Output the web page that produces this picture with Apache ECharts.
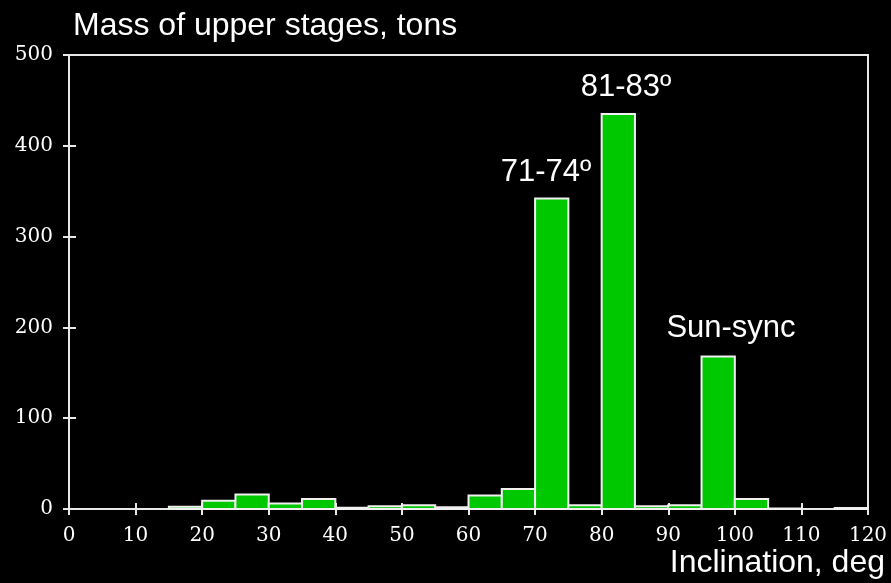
<!DOCTYPE html>
<html>
<head>
<meta charset="utf-8">
<script src="https://cdn.jsdelivr.net/npm/echarts@6/dist/echarts.min.js"></script>
<style>
html,body{margin:0;padding:0;background:#000;}
#c{width:891px;height:583px;}
</style>
</head>
<body>
<div id="c"></div>
<script>
// Bin start (inclination, deg), 5-degree bins
const binStarts = [0,5,10,15,20,25,30,35,40,45,50,55,60,65,70,75,80,85,90,95,100,105,110,115];
// Mass of upper stages, tons
const masses    = [0,0,0,2.5,9,16,6,11,1.5,3,4,2,15,22,342,4,435,3,4,168,11,0.5,0,1];
const binWidth = 5;
const xTicks = [0,10,20,30,40,50,60,70,80,90,100,110,120];
const yTicks = [0,100,200,300,400,500];
const annotations = [
  {text: '71-74º', x: 546, y: 172},
  {text: '81-83º', x: 626, y: 87},
  {text: 'Sun-sync', x: 731, y: 328}
];

const data = binStarts.map((s, i) => [s, s + binWidth, masses[i]]);

const chart = echarts.init(document.getElementById('c'), null, {renderer: 'canvas'});
const labelFont = {color: '#fff', fontFamily: 'DejaVu Serif', fontSize: 20};
const sansFont = 'Liberation Sans';

const option = {
  backgroundColor: '#000',
  animation: false,
  grid: {left: 69, right: 23, top: 55, bottom: 74, show: true, borderColor: '#e8e8e8', borderWidth: 2, containLabel: false},
  xAxis: [{
    type: 'value', min: xTicks[0], max: xTicks[xTicks.length-1], interval: 10,
    axisLine: {show: true, onZero: false, lineStyle: {color: '#e8e8e8', width: 2}},
    axisTick: {show: true, inside: false, length: 6, lineStyle: {color: '#e8e8e8', width: 2}},
    axisLabel: Object.assign({margin: 17}, labelFont),
    splitLine: {show: false}
  }, {
    type: 'value', min: xTicks[0], max: xTicks[xTicks.length-1], interval: 10, position: 'bottom',
    axisLine: {show: false},
    axisTick: {show: true, inside: true, length: 6, lineStyle: {color: '#e8e8e8', width: 2}},
    axisLabel: {show: false},
    splitLine: {show: false}
  }],
  yAxis: [{
    type: 'value', min: yTicks[0], max: yTicks[yTicks.length-1], interval: 100,
    axisLine: {show: true, lineStyle: {color: '#e8e8e8', width: 2}},
    axisTick: {show: true, inside: false, length: 6, lineStyle: {color: '#e8e8e8', width: 2}},
    axisLabel: Object.assign({margin: 16}, labelFont),
    splitLine: {show: false}
  }, {
    type: 'value', min: yTicks[0], max: yTicks[yTicks.length-1], interval: 100, position: 'left',
    axisLine: {show: false},
    axisTick: {show: true, inside: true, length: 7, lineStyle: {color: '#e8e8e8', width: 2}},
    axisLabel: {show: false},
    splitLine: {show: false}
  }],
  series: [{
    type: 'custom',
    xAxisIndex: 0, yAxisIndex: 0,
    data: data,
    encode: {x: [0, 1], y: 2},
    renderItem: function (params, api) {
      const v = api.value(2);
      if (!v) return null;
      const p0 = api.coord([api.value(0), 0]);
      const p1 = api.coord([api.value(1), v]);
      return {
        type: 'rect',
        shape: {x: p0[0], y: p1[1], width: p1[0] - p0[0], height: p0[1] - p1[1]},
        style: {fill: '#00c800', stroke: '#f0f0f0', lineWidth: 2}
      };
    },
    z: 1
  }],
  graphic: [
    {type: 'text', x: 73, y: 26, style: {text: 'Mass of upper stages, tons', fill: '#fff', font: '32px ' + sansFont, textVerticalAlign: 'middle'}},
    {type: 'text', x: 885, y: 563, style: {text: 'Inclination, deg', fill: '#fff', font: '32px ' + sansFont, textAlign: 'right', textVerticalAlign: 'middle'}}
  ].concat(annotations.map(a => ({
    type: 'text', x: a.x, y: a.y,
    style: {text: a.text, fill: '#fff', font: '31px ' + sansFont, textAlign: 'center', textVerticalAlign: 'middle'}
  })))
};
chart.setOption(option);
</script>
</body>
</html>
